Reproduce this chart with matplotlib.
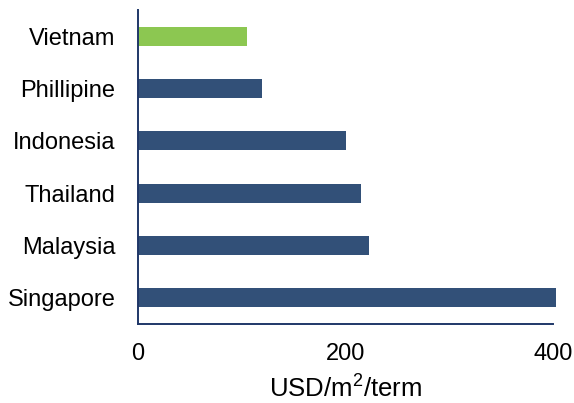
import matplotlib
matplotlib.use("Agg")
import matplotlib.pyplot as plt

# Rental cost by country (USD per square metre per term)
countries = ["Singapore", "Malaysia", "Thailand", "Indonesia", "Phillipine", "Vietnam"]
costs = [403, 223, 215, 201, 120, 105]
highlight = "Vietnam"

NAVY = "#325078"
GREEN = "#8cc751"
SPINE = "#1f3768"

plt.rcParams["font.family"] = ["Liberation Sans", "DejaVu Sans"]
plt.rcParams["mathtext.fontset"] = "custom"
plt.rcParams["mathtext.rm"] = "Liberation Sans"

fig = plt.figure(figsize=(5.74, 4.03), dpi=100)
ax = fig.add_axes([0.2396, 0.196, 0.7238, 0.779])

colors = [GREEN if c == highlight else NAVY for c in countries]
bars = ax.barh(range(len(countries)), costs, height=0.36, color=colors,
               edgecolor="none", zorder=2)
for b in bars:
    b.set_clip_on(False)

ax.set_yticks(range(len(countries)))
ax.set_yticklabels(countries)
ax.set_ylim(-0.5, len(countries) - 0.5)
ax.set_xlim(0, 400)
ax.set_xticks([0, 200, 400])

ax.tick_params(axis="both", length=0, labelsize=17, colors="black")
ax.tick_params(axis="x", pad=14)
ax.tick_params(axis="y", pad=16)

for side in ["top", "right"]:
    ax.spines[side].set_visible(False)
for side in ["left", "bottom"]:
    ax.spines[side].set_color(SPINE)
    ax.spines[side].set_linewidth(1.4)

ax.set_xlabel(r"USD/m$^{\mathrm{2}}$/term", fontsize=18.5, labelpad=6)

fig.savefig("out.png", dpi=100, facecolor="white")
